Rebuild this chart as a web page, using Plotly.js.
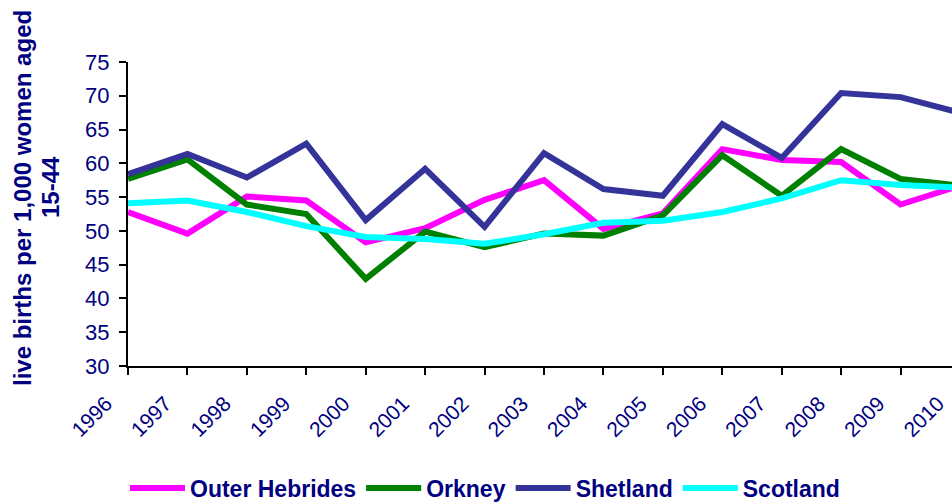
<!DOCTYPE html>
<html><head><meta charset="utf-8">
<script src="https://cdn.plot.ly/plotly-3.0.1.min.js"></script>
<style>html,body{margin:0;padding:0;overflow:hidden;background:#fff}#chart{width:962px;height:502px}</style>
</head><body><div id="chart"></div>
<script>
const years = [1996,1997,1998,1999,2000,2001,2002,2003,2004,2005,2006,2007,2008,2009,2010];
const outerHebrides = [52.8,49.6,55.1,54.5,48.3,50.4,54.6,57.5,50.3,52.6,62.1,60.5,60.2,53.9,56.7];
const orkney        = [57.7,60.6,53.9,52.5,42.9,49.9,47.6,49.6,49.3,52.3,61.2,55.2,62.1,57.7,56.7];
const shetland      = [58.4,61.4,57.9,62.9,51.6,59.2,50.6,61.5,56.2,55.2,65.8,60.8,70.4,69.8,67.5];
const scotland      = [54.1,54.5,52.8,50.7,49.1,48.8,48.1,49.5,51.2,51.5,52.8,54.8,57.5,56.8,56.4];
const yTicks = [30,35,40,45,50,55,60,65,70,75];
const seriesNames = ['Outer Hebrides','Orkney','Shetland','Scotland'];
const seriesColors = ['#FF00FF','#008000','#333399','#00FFFF'];
const seriesData = [outerHebrides, orkney, shetland, scotland];
const navy = '#000080';
const FONT = 'Liberation Sans, Arial, sans-serif';

const traces = seriesData.map((d,i)=>({
  x: years, y: d, name: seriesNames[i], type:'scatter', mode:'lines',
  line:{color:seriesColors[i], width:6}
}));

const layout = {
  width: 962, height: 502,
  margin:{l:128, r:2, t:62, b:136},
  paper_bgcolor:'#fff', plot_bgcolor:'#fff',
  font:{family:FONT, color:navy, size:21},
  showlegend:true,
  legend:{orientation:'h', xref:'container', yref:'container',
          x:(128-3)/962, xanchor:'left', y:(502-488)/502, yanchor:'middle',
          font:{family:FONT, size:23, color:navy, weight:'bold'},
          itemwidth:55, tracegroupgap:0, bgcolor:'rgba(0,0,0,0)'},
  xaxis:{range:[1996,2010], tickmode:'array', tickvals:years, ticktext:years.map(String),
         tickangle:-45, ticks:'outside', ticklen:7, tickwidth:2, tickcolor:'#000',
         showline:true, linecolor:'#000', linewidth:2, showgrid:false, zeroline:false,
         automargin:false, ticklabeloverflow:'allow', ticklabelstandoff:8, ticklabelshift:-22,
         tickfont:{family:FONT, size:21, color:navy}},
  yaxis:{range:[30,75], tickvals:yTicks, ticks:'outside', ticklen:7,
         tickwidth:2, tickcolor:'#000', showline:true, linecolor:'#000', linewidth:2,
         showgrid:false, zeroline:false, automargin:false, ticklabelstandoff:5,
         tickfont:{family:FONT, size:22, color:navy}},
  annotations:[
    {text:'<b>live births per 1,000 women aged</b>', textangle:-90,
     xref:'paper', yref:'paper', x:(23-128)/832, y:(366-198)/304, xanchor:'center', yanchor:'middle',
     showarrow:false, font:{family:FONT, size:24, color:navy}},
    {text:'<b>15-44</b>', textangle:-90,
     xref:'paper', yref:'paper', x:(50-128)/832, y:(366-187)/304, xanchor:'center', yanchor:'middle',
     showarrow:false, font:{family:FONT, size:24, color:navy}}
  ]
};
Plotly.newPlot('chart', traces, layout, {displayModeBar:false, staticPlot:true});
</script></body></html>
